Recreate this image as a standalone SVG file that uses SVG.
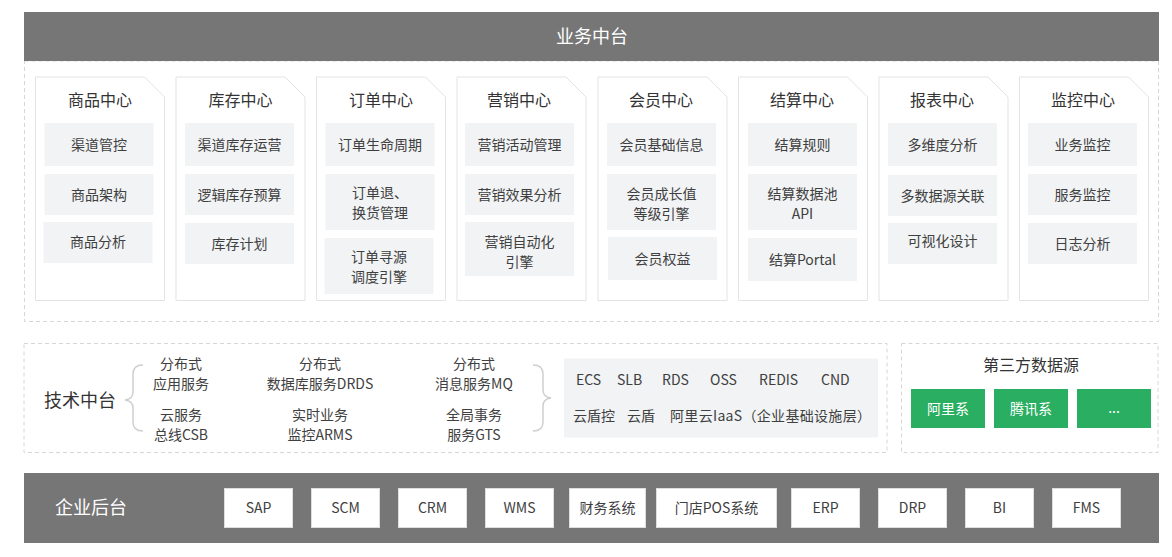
<svg xmlns="http://www.w3.org/2000/svg" width="1172" height="557" viewBox="0 0 1172 557">
<style>
text{font-family:"Noto Sans CJK SC","Microsoft YaHei",sans-serif;fill:#404040;}
.banner{fill:#767676;}
.bt{fill:#fff;font-size:18px;}
.dash{fill:none;stroke:#d6d6d6;stroke-width:1;stroke-dasharray:4 3;}
.card{fill:#fff;stroke:#e3e3e3;stroke-width:1;}
.ct{font-size:16px;text-anchor:middle;fill:#333;}
.item{fill:#f1f3f5;}
.it{font-size:14px;text-anchor:middle;}
.tt{font-size:14px;text-anchor:middle;}
.brace{fill:none;stroke:#cfcfcf;stroke-width:1.5;}
.gt{font-size:14px;}
.green{fill:#2aae62;}
.gw{font-size:14px;fill:#fff;text-anchor:middle;}
.sys{fill:#fff;stroke:#dedede;stroke-width:1;}
.st{font-size:14px;text-anchor:middle;fill:#404040;}
</style>

<!-- 业务中台 -->
<g id="biz-platform">
<rect class="dash" x="24.5" y="61" width="1134" height="260.5"/>
<rect class="banner" x="24" y="12" width="1135" height="49"/>
<text class="bt" x="592" y="43" text-anchor="middle">业务中台</text>
</g>

<g id="center-goods">
<path class="card" d="M35.5,77 H144.5 L164.5,97 V300.5 H35.5 Z"/>
<text class="ct" x="100" y="106">商品中心</text>
<rect class="item" x="44.5" y="123" width="109" height="43"/><text class="it" x="99" y="150">渠道管控</text>
<rect class="item" x="44.5" y="174" width="109" height="41"/><text class="it" x="99" y="200">商品架构</text>
<rect class="item" x="43.5" y="222" width="109" height="41"/><text class="it" x="98" y="247">商品分析</text>
</g>

<g id="center-stock">
<path class="card" d="M176,77 H285 L305,97 V300.5 H176 Z"/>
<text class="ct" x="240.5" y="106">库存中心</text>
<rect class="item" x="185" y="123" width="109" height="43"/><text class="it" x="239.5" y="150">渠道库存运营</text>
<rect class="item" x="185" y="174" width="109" height="41"/><text class="it" x="239.5" y="200">逻辑库存预算</text>
<rect class="item" x="185" y="223" width="109" height="41"/><text class="it" x="239.5" y="249">库存计划</text>
</g>

<g id="center-order">
<path class="card" d="M316.5,77 H425.5 L445.5,97 V300.5 H316.5 Z"/>
<text class="ct" x="381" y="106">订单中心</text>
<rect class="item" x="325.5" y="123" width="109" height="43"/><text class="it" x="380" y="150">订单生命周期</text>
<rect class="item" x="325.5" y="174" width="109" height="56"/><text class="it" x="380" y="198">订单退、</text><text class="it" x="380" y="218">换货管理</text>
<rect class="item" x="324.5" y="238" width="109" height="56"/><text class="it" x="379" y="262">订单寻源</text><text class="it" x="379" y="282">调度引擎</text>
</g>

<g id="center-marketing">
<path class="card" d="M457,77 H566 L586,97 V300.5 H457 Z"/>
<text class="ct" x="519" y="106">营销中心</text>
<rect class="item" x="465" y="123" width="109" height="43"/><text class="it" x="519.5" y="150">营销活动管理</text>
<rect class="item" x="465" y="174" width="109" height="41"/><text class="it" x="519.5" y="200">营销效果分析</text>
<rect class="item" x="465" y="222" width="109" height="54"/><text class="it" x="519.5" y="247">营销自动化</text><text class="it" x="519.5" y="267">引擎</text>
</g>

<g id="center-member">
<path class="card" d="M598,77 H707 L727,97 V300.5 H598 Z"/>
<text class="ct" x="661" y="106">会员中心</text>
<rect class="item" x="607" y="123" width="109" height="43"/><text class="it" x="661.5" y="150">会员基础信息</text>
<rect class="item" x="607" y="174" width="109" height="56"/><text class="it" x="661.5" y="199">会员成长值</text><text class="it" x="661.5" y="219">等级引擎</text>
<rect class="item" x="608" y="237" width="109" height="43"/><text class="it" x="662.5" y="264">会员权益</text>
</g>

<g id="center-settle">
<path class="card" d="M738.5,77 H847.5 L867.5,97 V300.5 H738.5 Z"/>
<text class="ct" x="802" y="106">结算中心</text>
<rect class="item" x="748" y="123" width="109" height="43"/><text class="it" x="802.5" y="150">结算规则</text>
<rect class="item" x="748" y="174" width="109" height="56"/><text class="it" x="802.5" y="199">结算数据池</text><text class="it" x="802.5" y="219">API</text>
<rect class="item" x="748" y="238" width="109" height="43"/><text class="it" x="802.5" y="265">结算Portal</text>
</g>

<g id="center-report">
<path class="card" d="M879,77 H988 L1008,97 V300.5 H879 Z"/>
<text class="ct" x="942" y="106">报表中心</text>
<rect class="item" x="888" y="123" width="109" height="43"/><text class="it" x="942.5" y="150">多维度分析</text>
<rect class="item" x="888" y="175" width="109" height="41"/><text class="it" x="942.5" y="201">多数据源关联</text>
<rect class="item" x="888" y="223" width="109" height="41"/><text class="it" x="942.5" y="246">可视化设计</text>
</g>

<g id="center-monitor">
<path class="card" d="M1019.5,77 H1128.5 L1148.5,97 V300.5 H1019.5 Z"/>
<text class="ct" x="1083" y="106">监控中心</text>
<rect class="item" x="1028" y="123" width="109" height="43"/><text class="it" x="1082.5" y="150">业务监控</text>
<rect class="item" x="1028" y="174" width="109" height="41"/><text class="it" x="1082.5" y="200">服务监控</text>
<rect class="item" x="1028" y="223" width="109" height="41"/><text class="it" x="1082.5" y="249">日志分析</text>
</g>

<!-- 技术中台 -->
<g id="tech-platform">
<rect class="dash" x="24" y="343.5" width="863" height="109"/>
<text x="44" y="407" style="font-size:18px;fill:#333;">技术中台</text>
<text class="tt" x="181" y="369">分布式</text>
<text class="tt" x="181" y="389">应用服务</text>
<text class="tt" x="181" y="420">云服务</text>
<text class="tt" x="181" y="440">总线CSB</text>
<text class="tt" x="320" y="369">分布式</text>
<text class="tt" x="320" y="389">数据库服务DRDS</text>
<text class="tt" x="320" y="420">实时业务</text>
<text class="tt" x="320" y="440">监控ARMS</text>
<text class="tt" x="474" y="369">分布式</text>
<text class="tt" x="474" y="389">消息服务MQ</text>
<text class="tt" x="474" y="420">全局事务</text>
<text class="tt" x="474" y="440">服务GTS</text>
</g>

<g id="infra">
<rect class="item" x="564" y="358.5" width="314" height="79"/>
<text class="gt" x="576" y="385">ECS</text>
<text class="gt" x="617" y="385">SLB</text>
<text class="gt" x="662" y="385">RDS</text>
<text class="gt" x="710" y="385">OSS</text>
<text class="gt" x="759" y="385">REDIS</text>
<text class="gt" x="821" y="385">CND</text>
<text class="gt" x="573" y="421">云盾控</text>
<text class="gt" x="627" y="421">云盾</text>
<text class="gt" x="670" y="421" textLength="201" lengthAdjust="spacing">阿里云IaaS（企业基础设施层）</text>
</g>

<g id="third-party">
<rect class="dash" x="901.5" y="343.5" width="256.5" height="109"/>
<text x="1031" y="371" style="font-size:16px;fill:#333;text-anchor:middle;">第三方数据源</text>
<rect class="green" x="911" y="389" width="74" height="39"/><text class="gw" x="948" y="414">阿里系</text>
<rect class="green" x="994" y="389" width="74" height="39"/><text class="gw" x="1031" y="414">腾讯系</text>
<rect class="green" x="1077" y="389" width="74" height="39"/><text class="gw" x="1114" y="413">...</text>
</g>

<!-- 企业后台 -->
<g id="enterprise-backend">
<rect class="banner" x="24" y="473" width="1135" height="70"/>
<text class="bt" x="55" y="514">企业后台</text>
<rect class="sys" x="224.5" y="488.5" width="68" height="39"/><text class="st" x="258.5" y="513">SAP</text>
<rect class="sys" x="311.5" y="488.5" width="68" height="39"/><text class="st" x="345.5" y="513">SCM</text>
<rect class="sys" x="398.5" y="488.5" width="68" height="39"/><text class="st" x="432.5" y="513">CRM</text>
<rect class="sys" x="485.5" y="488.5" width="68" height="39"/><text class="st" x="519.5" y="513">WMS</text>
<rect class="sys" x="569.5" y="488.5" width="76" height="39"/><text class="st" x="607.5" y="513">财务系统</text>
<rect class="sys" x="656.5" y="488.5" width="120" height="39"/><text class="st" x="716.5" y="513">门店POS系统</text>
<rect class="sys" x="791.5" y="488.5" width="68" height="39"/><text class="st" x="825.5" y="513">ERP</text>
<rect class="sys" x="878.5" y="488.5" width="68" height="39"/><text class="st" x="912.5" y="513">DRP</text>
<rect class="sys" x="965.5" y="488.5" width="68" height="39"/><text class="st" x="999.5" y="513">BI</text>
<rect class="sys" x="1052.5" y="488.5" width="68" height="39"/><text class="st" x="1086.5" y="513">FMS</text>
</g>

<!-- connectors (braces) -->
<g id="connectors">
<path class="brace" d="M143,365 Q133,365 133,374 V392 Q133,399 125,400 Q133,401 133,408 V422 Q133,431 143,431"/>
<path class="brace" d="M533,365 Q543,365 543,374 V390 Q543,397 551,398 Q543,399 543,406 V422 Q543,431 533,431"/>
</g>
</svg>
